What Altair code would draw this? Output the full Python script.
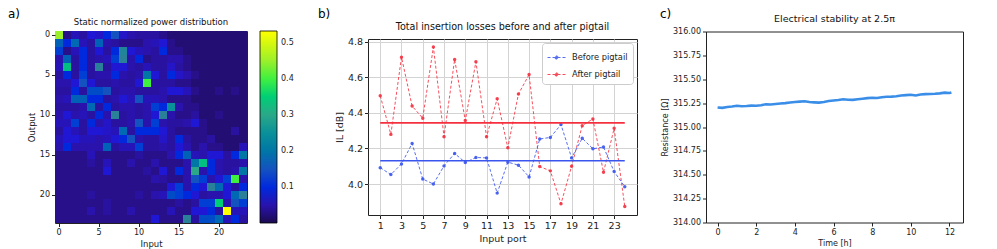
import altair as alt
import pandas as pd

FONT = "DejaVu Sans"

# ---------------- panel a: static normalized power distribution (rows = output, cols = input)
power_rows = [
    [0.45,0.03,0.06,0.04,0.08,0.07,0.10,0.15,0.07,0.05,0.04,0.04,0.04,0.03,0.02,0.02,0.02,0.02,0.02,0.02,0.02,0.02,0.02,0.02],
    [0.17,0.10,0.18,0.06,0.04,0.17,0.05,0.04,0.03,0.03,0.03,0.05,0.06,0.08,0.03,0.02,0.02,0.02,0.02,0.02,0.02,0.02,0.02,0.02],
    [0.12,0.03,0.06,0.10,0.04,0.08,0.04,0.10,0.23,0.08,0.06,0.05,0.04,0.10,0.03,0.03,0.02,0.02,0.02,0.02,0.02,0.02,0.02,0.02],
    [0.05,0.17,0.04,0.10,0.04,0.05,0.06,0.12,0.22,0.05,0.10,0.03,0.04,0.04,0.05,0.05,0.03,0.02,0.02,0.02,0.02,0.02,0.02,0.02],
    [0.06,0.33,0.04,0.10,0.04,0.22,0.04,0.08,0.08,0.05,0.04,0.06,0.04,0.04,0.07,0.04,0.03,0.02,0.02,0.02,0.02,0.02,0.02,0.02],
    [0.04,0.10,0.04,0.12,0.04,0.05,0.05,0.10,0.05,0.04,0.05,0.20,0.08,0.04,0.10,0.07,0.05,0.03,0.02,0.02,0.02,0.02,0.02,0.02],
    [0.05,0.05,0.08,0.15,0.08,0.04,0.04,0.05,0.04,0.04,0.08,0.40,0.04,0.04,0.04,0.03,0.03,0.02,0.02,0.02,0.02,0.02,0.02,0.02],
    [0.04,0.04,0.10,0.04,0.14,0.14,0.15,0.04,0.05,0.05,0.04,0.04,0.04,0.05,0.08,0.08,0.06,0.03,0.02,0.02,0.03,0.02,0.03,0.02],
    [0.05,0.06,0.17,0.17,0.10,0.10,0.04,0.05,0.08,0.06,0.15,0.06,0.06,0.05,0.03,0.03,0.03,0.02,0.02,0.02,0.02,0.02,0.02,0.02],
    [0.04,0.04,0.04,0.05,0.18,0.04,0.10,0.04,0.05,0.05,0.04,0.05,0.12,0.10,0.25,0.05,0.03,0.03,0.02,0.02,0.02,0.02,0.02,0.02],
    [0.05,0.08,0.05,0.06,0.04,0.10,0.05,0.22,0.04,0.05,0.04,0.05,0.08,0.22,0.05,0.03,0.03,0.04,0.02,0.02,0.03,0.02,0.02,0.02],
    [0.06,0.06,0.12,0.04,0.10,0.05,0.07,0.04,0.04,0.05,0.15,0.05,0.12,0.05,0.04,0.04,0.05,0.08,0.03,0.02,0.02,0.02,0.02,0.02],
    [0.04,0.08,0.06,0.04,0.08,0.08,0.07,0.06,0.18,0.04,0.10,0.10,0.10,0.08,0.04,0.03,0.03,0.03,0.03,0.02,0.02,0.02,0.04,0.02],
    [0.06,0.08,0.08,0.06,0.06,0.05,0.06,0.08,0.10,0.15,0.05,0.04,0.04,0.07,0.04,0.10,0.04,0.03,0.03,0.04,0.02,0.02,0.02,0.02],
    [0.05,0.10,0.05,0.05,0.05,0.05,0.17,0.04,0.06,0.06,0.12,0.04,0.04,0.05,0.04,0.08,0.05,0.03,0.05,0.03,0.03,0.02,0.02,0.06],
    [0.03,0.03,0.03,0.03,0.06,0.03,0.03,0.03,0.03,0.03,0.04,0.03,0.03,0.03,0.05,0.10,0.17,0.06,0.05,0.08,0.08,0.04,0.10,0.20],
    [0.03,0.03,0.03,0.03,0.04,0.03,0.06,0.03,0.03,0.05,0.03,0.03,0.05,0.03,0.03,0.03,0.05,0.20,0.33,0.10,0.05,0.04,0.04,0.05],
    [0.03,0.03,0.03,0.03,0.03,0.03,0.08,0.03,0.03,0.03,0.03,0.04,0.03,0.08,0.03,0.10,0.05,0.30,0.05,0.10,0.05,0.04,0.05,0.20],
    [0.03,0.03,0.03,0.03,0.03,0.03,0.03,0.03,0.03,0.03,0.03,0.03,0.05,0.04,0.03,0.03,0.05,0.15,0.12,0.05,0.08,0.12,0.40,0.05],
    [0.03,0.03,0.03,0.03,0.03,0.03,0.03,0.03,0.03,0.03,0.03,0.03,0.03,0.03,0.08,0.12,0.05,0.10,0.08,0.22,0.18,0.08,0.04,0.10],
    [0.03,0.03,0.03,0.03,0.04,0.03,0.03,0.03,0.03,0.03,0.04,0.03,0.05,0.06,0.14,0.12,0.10,0.08,0.04,0.05,0.05,0.08,0.18,0.22],
    [0.03,0.03,0.03,0.03,0.03,0.03,0.04,0.03,0.03,0.03,0.03,0.03,0.03,0.03,0.03,0.04,0.03,0.04,0.12,0.12,0.35,0.05,0.15,0.12],
    [0.03,0.03,0.03,0.03,0.05,0.03,0.04,0.03,0.03,0.05,0.03,0.03,0.03,0.03,0.06,0.03,0.03,0.08,0.08,0.10,0.04,0.532,0.06,0.06],
    [0.03,0.03,0.03,0.03,0.03,0.03,0.03,0.03,0.03,0.03,0.03,0.03,0.08,0.03,0.03,0.03,0.22,0.04,0.14,0.14,0.18,0.06,0.10,0.04],
]
cbar_ticks = [0.1, 0.2, 0.3, 0.4, 0.5]
heat_ticks = [0, 5, 10, 15, 20]

# ---------------- panel b: insertion losses
ports = list(range(1, 25))
il_before = [4.092, 4.053, 4.113, 4.228, 4.028, 4.000, 4.102, 4.172, 4.121, 4.149, 4.147, 3.949,
             4.123, 4.106, 4.040, 4.253, 4.262, 4.334, 4.147, 4.257, 4.198, 4.208, 4.070, 3.985]
il_after = [4.496, 4.279, 4.713, 4.438, 4.370, 4.770, 4.266, 4.700, 4.357, 4.687, 4.266, 4.479,
            4.204, 4.506, 4.615, 4.098, 4.074, 3.889, 4.100, 4.328, 4.366, 4.066, 4.313, 3.874]
series_names = ["Before pigtail", "After pigtail"]
port_ticks = list(range(1, 24, 2))
il_ticks = [4.0, 4.2, 4.4, 4.6, 4.8]

# ---------------- panel c: electrical stability
time_h = [0.00, 0.25, 0.50, 0.75, 1.00, 1.25, 1.50, 1.75, 2.00, 2.25, 2.50, 2.75, 3.00, 3.25,
          3.50, 3.75, 4.00, 4.25, 4.50, 4.75, 5.00, 5.25, 5.50, 5.75, 6.00, 6.25, 6.50, 6.75,
          7.00, 7.25, 7.50, 7.75, 8.00, 8.25, 8.50, 8.75, 9.00, 9.25, 9.50, 9.75, 10.00, 10.25,
          10.50, 10.75, 11.00, 11.25, 11.50, 11.75, 12.00, 12.10]
resistance = [315.205, 315.200, 315.210, 315.215, 315.222, 315.218, 315.220, 315.224, 315.222,
              315.228, 315.238, 315.235, 315.240, 315.246, 315.250, 315.256, 315.262, 315.266,
              315.270, 315.262, 315.258, 315.255, 315.262, 315.272, 315.278, 315.282, 315.290,
              315.286, 315.284, 315.290, 315.296, 315.302, 315.306, 315.304, 315.312, 315.316,
              315.318, 315.322, 315.330, 315.334, 315.338, 315.330, 315.340, 315.344, 315.346,
              315.348, 315.352, 315.360, 315.356, 315.362]
res_ticks = [314.0, 314.25, 314.5, 314.75, 315.0, 315.25, 315.5, 315.75, 316.0]
time_ticks = [0, 2, 4, 6, 8, 10, 12]

panel_labels = ["a)", "b)", "c)"]

# ---------------- build tables
heat_df = pd.DataFrame([
    {"Output": r, "Input": c, "P": v}
    for r, row in enumerate(power_rows) for c, v in enumerate(row)
])
b_df = pd.DataFrame(
    [{"port": p, "IL": v, "series": series_names[0]} for p, v in zip(ports, il_before)]
    + [{"port": p, "IL": v, "series": series_names[1]} for p, v in zip(ports, il_after)]
)
c_df = pd.DataFrame({"t": time_h, "R": resistance})

# panel a
heat_scale = alt.Scale(domain=[0.0015, 0.04, 0.09, 0.16, 0.22, 0.30, 0.40, 0.46, 0.532],
                       range=["#1b0a4e", "#2a12a0", "#1818e0", "#2458b8", "#2a8098",
                              "#2aa888", "#40f040", "#a8f028", "#ffff00"])
panel_a = alt.Chart(heat_df).mark_rect().encode(
    x=alt.X("Input:O", scale=alt.Scale(paddingInner=0, paddingOuter=0),
            axis=alt.Axis(values=heat_ticks, labelAngle=0, title="Input", labelFontSize=8,
                          titleFontSize=8.5, titleFontWeight="normal")),
    y=alt.Y("Output:O", scale=alt.Scale(paddingInner=0, paddingOuter=0),
            axis=alt.Axis(values=heat_ticks, title="Output", labelFontSize=8,
                          titleFontSize=8.5, titleFontWeight="normal")),
    color=alt.Color("P:Q", scale=heat_scale,
                    legend=alt.Legend(title=None, orient="right", offset=13, gradientLength=192,
                                      gradientThickness=17, values=cbar_ticks, labelFontSize=8,
                                      gradientStrokeColor="#000", gradientStrokeWidth=0.8,
                                      labelOffset=4, direction="vertical")),
).properties(
    width=192, height=192,
    title=alt.TitleParams("Static normalized power distribution", fontSize=8.5, fontWeight="normal",
                          font=FONT, offset=4),
)

# panel b
blue = "#3a55ee"
red = "#f4303f"
color_b = alt.Color("series:N", scale=alt.Scale(domain=series_names, range=[blue, red]),
                    legend=alt.Legend(title=None, orient="top-right", offset=4, padding=5,
                                      strokeColor="#cccccc", cornerRadius=3, fillColor="white",
                                      labelFontSize=8.3, symbolSize=324, symbolStrokeWidth=1,
                                      symbolDash=[3, 2],
                                      symbolType="M-1,0L1,0M-0.18,0a0.18,0.18 0 1,0 0.36,0a0.18,0.18 0 1,0 -0.36,0",
                                      rowPadding=3, labelOffset=6))
xb_scale = alt.Scale(domain=[-0.15, 25.15], nice=False)
yb_scale = alt.Scale(domain=[3.826, 4.815], nice=False, zero=False)
xb_axis = alt.Axis(values=port_ticks, title="Input port", grid=True, labelFontSize=9.5,
                   labelOverlap=False, titleFontSize=9.5, titleFontWeight="normal")
yb_axis = alt.Axis(values=il_ticks, format=".1f", title="IL [dB]", grid=True, labelFontSize=9.5,
                   labelOverlap=False, titleFontSize=9.5, titleFontWeight="normal")
lines_b = alt.Chart(b_df).mark_line(
    strokeDash=[3, 2], strokeWidth=1, opacity=0.85,
    point=alt.OverlayMarkDef(size=12, filled=True, opacity=0.9),
).encode(
    x=alt.X("port:Q", scale=xb_scale, axis=xb_axis),
    y=alt.Y("IL:Q", scale=yb_scale, axis=yb_axis),
    color=color_b,
)
means_b = alt.Chart(b_df).mark_rule(strokeWidth=1.6).encode(
    x=alt.X("min(port):Q", scale=xb_scale, axis=xb_axis),
    x2="max(port):Q",
    y=alt.Y("mean(IL):Q", scale=yb_scale, axis=yb_axis),
    color=color_b,
)
panel_b = alt.layer(lines_b, means_b).properties(
    width=269, height=176,
    title=alt.TitleParams("Total insertion losses before and after pigtail", fontSize=9.6,
                          fontWeight="normal", font=FONT, offset=5),
)

# panel c
panel_c = alt.Chart(c_df).mark_line(strokeWidth=2.6, color="#3a8ee8").encode(
    x=alt.X("t:Q", scale=alt.Scale(domain=[-0.6, 12.7], nice=False),
            axis=alt.Axis(values=time_ticks, title="Time [h]", labelFontSize=8, titleFontSize=8,
                          titleFontWeight="normal", grid=False)),
    y=alt.Y("R:Q", scale=alt.Scale(domain=[314, 316], nice=False, zero=False),
            axis=alt.Axis(values=res_ticks, format=".2f", title="Resistance [Ω]", labelFontSize=8,
                          titleFontSize=8, titleFontWeight="normal", grid=False)),
).properties(
    width=257, height=191,
    title=alt.TitleParams("Electrical stability at 2.5π", fontSize=9.5, fontWeight="normal",
                          font=FONT, offset=4),
)


def spacer(w, label, dx):
    # empty, frameless view used to space the panels; carries the panel letter
    return alt.Chart(pd.DataFrame({"lab": [label]})).mark_text(
        align="left", baseline="top", fontSize=12, font=FONT, color="#000"
    ).encode(x=alt.value(dx), y=alt.value(-22), text="lab:N").properties(
        width=w, height=192, view=alt.ViewBackground(stroke=None)
    )


chart = alt.hconcat(
    spacer(47, panel_labels[0], 0), panel_a,
    spacer(121, panel_labels[1], 71), panel_b,
    spacer(69, panel_labels[2], 23), panel_c,
    spacing=0, bounds="flush", center=True,
).resolve_scale(color="independent").properties(padding=0).configure_view(
    stroke="#222", strokeWidth=1
).configure_axis(
    domain=False, tickColor="#222", tickSize=3.5, labelColor="#222", titleColor="#222",
    labelFont=FONT, titleFont=FONT, gridColor="#d3d3d3", labelPadding=2, titlePadding=3,
).configure_legend(
    labelFont=FONT, labelColor="#222"
).configure_title(color="#111")

chart.save("out.html", embed_options={"renderer": "svg", "actions": False})
